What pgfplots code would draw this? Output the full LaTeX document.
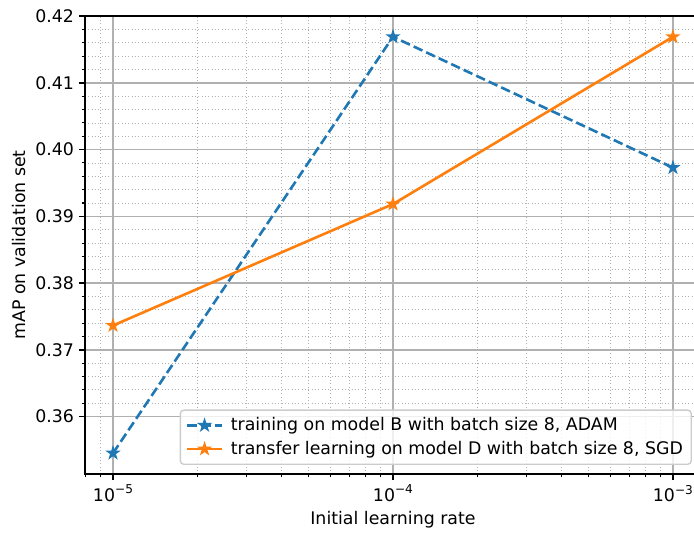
\documentclass[border=0pt]{standalone}
\usepackage{fontspec}
\setmainfont{DejaVu Sans}
\usepackage{pgfplots}
\pgfplotsset{compat=1.18}
\definecolor{mblue}{HTML}{1F77B4}
\definecolor{morange}{HTML}{FF7F0E}
\definecolor{mgrid}{HTML}{B0B0B0}
\definecolor{lgray}{HTML}{CCCCCC}
\pgfdeclareplotmark{fstar}{%
  \pgfpathmoveto{\pgfpointpolar{90}{\pgfplotmarksize}}%
  \pgfpathlineto{\pgfpointpolar{126}{0.382\pgfplotmarksize}}%
  \pgfpathlineto{\pgfpointpolar{162}{\pgfplotmarksize}}%
  \pgfpathlineto{\pgfpointpolar{198}{0.382\pgfplotmarksize}}%
  \pgfpathlineto{\pgfpointpolar{234}{\pgfplotmarksize}}%
  \pgfpathlineto{\pgfpointpolar{270}{0.382\pgfplotmarksize}}%
  \pgfpathlineto{\pgfpointpolar{306}{\pgfplotmarksize}}%
  \pgfpathlineto{\pgfpointpolar{342}{0.382\pgfplotmarksize}}%
  \pgfpathlineto{\pgfpointpolar{18}{\pgfplotmarksize}}%
  \pgfpathlineto{\pgfpointpolar{54}{0.382\pgfplotmarksize}}%
  \pgfpathclose
  \pgfusepathqfillstroke}
\newcommand{\sexp}[1]{10\raisebox{0.45em}{\fontsize{8.75}{10}\selectfont #1}}
\begin{document}
\begin{tikzpicture}
\begin{axis}[
  scale only axis, width=443.5pt, height=329.8pt,
  xmode=log, xmin=7.943e-6, xmax=1.2589e-3,
  ymin=0.35139, ymax=0.42003,
  xtick={1e-5,1e-4,1e-3},
  xticklabels={\sexp{−5},\sexp{−4},\sexp{−3}},
  minor xtick={8e-6,9e-6,2e-5,3e-5,4e-5,5e-5,6e-5,7e-5,8e-5,9e-5,2e-4,3e-4,4e-4,5e-4,6e-4,7e-4,8e-4,9e-4},
  ytick={0.36,0.37,0.38,0.39,0.40,0.41,0.42},
  yticklabels={0.36,0.37,0.38,0.39,0.40,0.41,0.42},
  minor y tick num=4,
  tick label style={font=\fontsize{12.5}{15}\selectfont},
  label style={font=\fontsize{12.5}{15}\selectfont},
  grid=both,
  major grid style={mgrid, line width=1pt},
  minor grid style={mgrid, dotted, line width=0.6pt},
  tick align=outside, tick pos=left,
  major tick length=4.4pt, minor tick length=2.5pt,
  every tick/.style={black, line width=1pt},
  minor tick style={black, line width=0.75pt},
  axis line style={line width=1pt},
  xlabel={Initial learning rate},
  ylabel={mAP on validation set},
  legend style={at={(rel axis cs:1,0)}, anchor=south east, xshift=-6.5pt, yshift=6.5pt,
    draw=lgray, line width=1pt, fill=white, fill opacity=0.8, text opacity=1, rounded corners=2.5pt,
    font=\fontsize{12.5}{15}\selectfont, row sep=2pt, inner xsep=4pt, inner ysep=3.5pt},
  legend cell align=left,
  legend image code/.code={\draw[mark repeat=2,mark phase=2] plot coordinates {(0pt,0pt)(12.5pt,0pt)(25pt,0pt)};
    \path (28.5pt,0pt);},
]
\addplot[mblue, line width=1.875pt, dash pattern=on 6.94pt off 3pt, mark=fstar, mark size=3.75pt, mark options={solid, line width=1.25pt}]
  coordinates {(1e-5,0.35451) (1e-4,0.41691) (1e-3,0.39730)};
\addlegendentry{training on model B with batch size 8, ADAM}
\addplot[morange, line width=1.875pt, mark=fstar, mark size=3.75pt, mark options={solid, line width=1.25pt}]
  coordinates {(1e-5,0.37364) (1e-4,0.39184) (1e-3,0.41690)};
\addlegendentry{transfer learning on model D with batch size 8, SGD}
\end{axis}
\pgfresetboundingbox
\path ([xshift=-61.2pt,yshift=-42.5pt]current axis.south west) rectangle ([xshift=-5pt,yshift=11.5pt]current axis.north east);
\end{tikzpicture}
\end{document}
